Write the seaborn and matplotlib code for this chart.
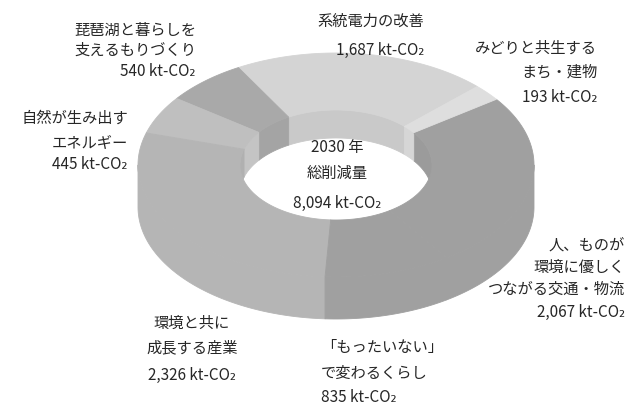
import numpy as np
import matplotlib
matplotlib.use("Agg")
import matplotlib.pyplot as plt
import seaborn as sns

# Reduction targets for 2030 (kt-CO2), counter-clockwise from the top
sectors = [
    "系統電力の改善",
    "琵琶湖と暮らしを\n支えるもりづくり",
    "自然が生み出す\nエネルギー",
    "環境と共に\n成長する産業",
    "「もったいない」\nで変わるくらし",
    "人、ものが\n環境に優しく\nつながる交通・物流",
    "みどりと共生する\nまち・建物",
]
reductions = [1687, 540, 445, 2326, 835, 2067, 193]
total_reduction = 8094
center_title = ["2030 年", "総削減量"]
unit = "kt-CO₂"

# Styling
top_colors = ["#d4d4d4", "#a9a9a9", "#bfbfbf", "#b5b5b5", "#a0a0a0", "#a0a0a0", "#dedede"]
wall_colors = ["#c9c9c9", "#a4a4a4", "#c4c4c4", "#b0b0b0", "#9b9b9b", "#9b9b9b", "#d6d6d6"]
text_color = "#262626"

# label anchors: x, y of first line, alignment, line pitch, gap before value
label_layout = [
    (424, 21, "right", 24, 29),
    (196, 30, "right", 20, 22),
    (128, 118, "right", 25, 22),
    (192, 323, "center", 25, 27),
    (321, 348, "left", 25, 25),
    (625, 245, "right", 22, 23),
    (597, 48, "right", 24, 26),
]

sns.set_theme(style="white")
plt.rcParams["font.family"] = ["Noto Sans CJK JP", "DejaVu Sans"]

fig = plt.figure(figsize=(6.4, 4.1), dpi=100)
ax = fig.add_axes([0, 0, 1, 1])
ax.set_xlim(0, 640)
ax.set_ylim(410, 0)
ax.axis("off")

# Ring geometry (pixels): shared centre, flattened ellipses, extruded walls
cx, cy = 336, 166
ao, bo, ho = 198, 112, 42   # outer edge and visible outer-wall drop
ai, bi, hi = 96, 55, 28     # inner edge and visible inner-wall drop
start = 44.5

vals = np.array(reductions, dtype=float)
spans = vals / vals.sum() * 360.0
edges = start + np.concatenate([[0], np.cumsum(spans)])


def arc(a, b, t1, t2, dy=0.0, n=120):
    t = np.radians(np.linspace(t1, t2, n))
    return cx + a * np.cos(t), cy - b * np.sin(t) + dy


def overlap(t1, t2, lo, hi_):
    out = []
    for k in (-360, 0, 360):
        s, e = max(t1, lo + k), min(t2, hi_ + k)
        if e > s:
            out.append((s, e))
    return out


def face(xs, ys, color):
    # thin same-colour edge closes antialiasing seams between pieces
    ax.fill(xs, ys, facecolor=color, edgecolor=color, lw=0.6, joinstyle="round")


# back inner walls seen through the hole
for i in range(len(vals)):
    for s, e in overlap(edges[i], edges[i + 1], 0, 180):
        x1, y1 = arc(ai, bi, s, e)
        x2, y2 = arc(ai, bi, e, s, dy=hi)
        face(np.r_[x1, x2], np.r_[y1, y2], wall_colors[i])

# front outer walls
for i in range(len(vals)):
    for s, e in overlap(edges[i], edges[i + 1], 180, 360):
        x1, y1 = arc(ao, bo, s, e)
        x2, y2 = arc(ao, bo, e, s, dy=ho)
        face(np.r_[x1, x2], np.r_[y1, y2], top_colors[i])

# top faces
for i in range(len(vals)):
    x1, y1 = arc(ao, bo, edges[i], edges[i + 1])
    x2, y2 = arc(ai, bi, edges[i + 1], edges[i])
    face(np.r_[x1, x2], np.r_[y1, y2], top_colors[i])

fs = 11
for name, v, (x, y, ha, pitch, gap) in zip(sectors, reductions, label_layout):
    lines = name.split("\n")
    for j, line in enumerate(lines):
        ax.text(x, y + j * pitch, line, ha=ha, va="center", fontsize=fs, color=text_color)
    ax.text(x, y + (len(lines) - 1) * pitch + gap, f"{v:,} {unit}",
            ha=ha, va="center", fontsize=fs, color=text_color)

# centre caption
ax.text(337, 148, center_title[0], ha="center", va="center", fontsize=fs, color=text_color)
ax.text(337, 173, center_title[1], ha="center", va="center", fontsize=fs, color=text_color)
ax.text(337, 203, f"{total_reduction:,} {unit}", ha="center", va="center", fontsize=fs, color=text_color)

fig.savefig("out.png", dpi=100, facecolor="white")
